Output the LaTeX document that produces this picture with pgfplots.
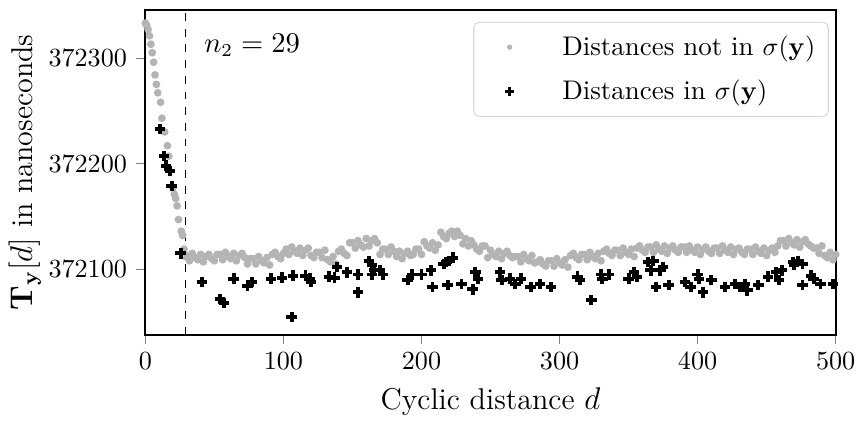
\documentclass[border=0pt]{standalone}
\usepackage{pgfplots}
\pgfplotsset{compat=1.18}
\definecolor{dotgray}{RGB}{180,180,180}

\begin{document}
\begin{tikzpicture}
\begin{axis}[
  scale only axis, width=264pt, height=124pt,
  xmin=0, xmax=500, ymin=372038, ymax=372345,
  xtick={0,100,200,300,400,500},
  ytick={372100,372200,372300},
  scaled y ticks=false,
  yticklabel style={/pgf/number format/.cd, fixed, precision=0, 1000 sep={}},
  tick label style={font=\fontsize{10.2}{12}\selectfont},
  label style={font=\fontsize{11.5}{14}\selectfont},
  ylabel shift=-4pt,
  tick align=outside, tick pos=left, major tick length=3.5pt,
  axis line style={line width=0.8pt},
  xlabel={Cyclic distance $d$},
  ylabel={$\mathbf{T}_{\mathbf{y}}[d]$ in nanoseconds},
  legend style={at={(0.99,0.965)}, anchor=north east, draw=gray!30,
    rounded corners=2pt, row sep=4pt, inner sep=3pt,
    font=\fontsize{10.3}{12}\selectfont},
  legend image code/.code={\path (0cm,0cm) (1.0cm,0cm);
    \draw[#1] plot coordinates {(0.37cm,0cm)};},
  legend cell align=left,
  clip=false]
% distances not in sigma(y)
\addplot[only marks, mark=*, mark size=1.5pt, color=dotgray, draw opacity=0,
  legend image post style={mark size=1pt}] coordinates {
(0,372333)(1,372331)(2,372327)(3,372321)(4,372313)(5,372305)(6,372296)(7,372284)
(8,372275)(9,372267)(11,372258)(12,372243)(14,372230)(16,372217)(17,372207)
(20,372177)(21,372171)(22,372167)(23,372160)(24,372147)(26,372136)(27,372132)
(28,372119)(29,372112)
(30,372113)(32,372108)(34,372115)(36,372111)(38,372109)(40,372114)(42,372107)
(44,372112)(46,372114)(48,372110)(50,372108)(52,372114)(54,372114)(56,372109)
(58,372116)(60,372112)(62,372110)(64,372115)(66,372108)(68,372113)(70,372115)
(72,372111)(74,372105)(76,372110)(78,372110)(80,372105)(82,372112)(84,372108)
(86,372106)(88,372111)(90,372104)(92,372114)(94,372116)(96,372112)(98,372110)
(100,372115)(102,372119)(104,372114)(106,372121)(108,372117)(110,372115)
(112,372120)(114,372113)(116,372118)(118,372120)(120,372113)(122,372111)
(124,372116)(126,372116)(128,372111)(130,372118)(132,372109)(134,372107)
(136,372112)(138,372105)(140,372117)(142,372119)(144,372115)(146,372113)
(148,372125)(150,372125)(152,372120)(154,372127)(156,372123)(158,372121)
(160,372129)(162,372122)(164,372127)(166,372129)(168,372125)(170,372114)
(172,372119)(174,372119)(176,372114)(178,372121)(180,372117)(182,372112)
(184,372117)(186,372110)(188,372115)(190,372117)(192,372113)(194,372114)
(196,372119)(198,372119)(200,372114)(202,372126)(204,372122)(206,372120)
(208,372125)(210,372118)(212,372123)(214,372135)(216,372131)(218,372129)
(220,372134)(222,372136)(224,372131)(226,372136)(228,372132)(230,372124)
(232,372129)(234,372122)(236,372127)(238,372123)(240,372119)(242,372117)
(244,372122)(246,372122)(248,372111)(250,372118)(252,372114)(254,372112)
(256,372117)(258,372110)(260,372115)(262,372117)(264,372113)(266,372111)
(268,372112)(270,372112)(272,372107)(274,372114)(276,372110)(278,372108)
(280,372113)(282,372106)(284,372107)(286,372109)(288,372105)(290,372103)
(292,372108)(294,372108)(296,372103)(298,372110)(300,372106)(302,372104)
(304,372109)(306,372102)(308,372113)(310,372115)(312,372111)(314,372109)
(316,372114)(318,372114)(320,372109)(322,372116)(324,372112)(326,372110)
(328,372115)(330,372108)(332,372117)(334,372119)(336,372115)(338,372113)
(340,372118)(342,372118)(344,372113)(346,372120)(348,372116)(350,372114)
(352,372119)(354,372112)(356,372120)(358,372122)(360,372118)(362,372116)
(364,372121)(366,372121)(368,372116)(370,372123)(372,372119)(374,372117)
(376,372122)(378,372115)(380,372120)(382,372122)(384,372118)(386,372116)
(388,372121)(390,372121)(392,372116)(394,372122)(396,372118)(398,372116)
(400,372121)(402,372114)(404,372119)(406,372121)(408,372117)(410,372115)
(412,372120)(414,372120)(416,372115)(418,372122)(420,372118)(422,372116)
(424,372121)(426,372114)(428,372119)(430,372120)(432,372116)(434,372114)
(436,372119)(438,372119)(440,372114)(442,372121)(444,372117)(446,372115)
(448,372120)(450,372113)(452,372118)(454,372120)(456,372116)(458,372122)
(460,372127)(462,372127)(464,372122)(466,372129)(468,372125)(470,372123)
(472,372128)(474,372121)(476,372126)(478,372128)(480,372124)(482,372122)
(484,372120)(486,372120)(488,372115)(490,372122)(492,372113)(494,372111)
(496,372116)(498,372109)(500,372114)
};
\addlegendentry{Distances not in $\sigma(\mathbf{y})$}
% distances in sigma(y)
\addplot[only marks, mark=+, mark size=2pt, color=black, mark options={line width=1.5pt},
  legend image post style={mark size=1.6pt, mark options={line width=1.3pt}}] coordinates {
(10.7,372233)(13.6,372207)(15,372198)(17.9,372193)(19,372179)(25.5,372115)
(41,372088)(54,372072)(57,372068)(64,372091)(74,372084)(77,372088)(91,372091)
(99,372092)(106,372055)(107,372094)(116,372094)(119,372091)(120,372088)
(133,372093)(137,372092)(139,372102)(146,372097)(154,372095)(154,372078)
(162,372108)(164,372104)(166,372099)(170,372099)(164,372095)(172,372095)
(190,372090)(193,372095)(200,372095)(207,372099)(208,372083)(216,372105)
(218,372107)(220,372108)(223,372111)(219,372085)(229,372086)(237,372081)
(239,372097)(241,372091)(257,372097)(258,372090)(264,372091)(268,372086)
(272,372091)(279,372083)(286,372086)(294,372083)(313,372093)(315,372090)
(323,372071)(330,372095)(331,372091)(336,372095)(350,372091)(354,372097)
(356,372093)(364,372107)(368,372108)(366,372099)(373,372099)(370,372083)
(375,372102)(379,372085)(391,372088)(395,372083)(400,372095)(401,372091)
(404,372078)(410,372090)(420,372083)(427,372086)(431,372083)(434,372086)
(436,372080)(444,372085)(451,372093)(457,372097)(459,372090)(461,372099)
(469,372107)(470,372104)(473,372108)(476,372105)(476,372085)(482,372094)
(484,372091)(489,372086)(498,372086)
};
\addlegendentry{Distances in $\sigma(\mathbf{y})$}
\addplot[black, dashed, line width=0.5pt, forget plot] coordinates {(29,372038) (29,372345)};
\node[anchor=west, font=\fontsize{10.5}{12}\selectfont] at (axis cs:36,372312) {$n_2 = 29$};
\end{axis}
\path ([yshift=4pt]current axis.north east);
\end{tikzpicture}
\end{document}
